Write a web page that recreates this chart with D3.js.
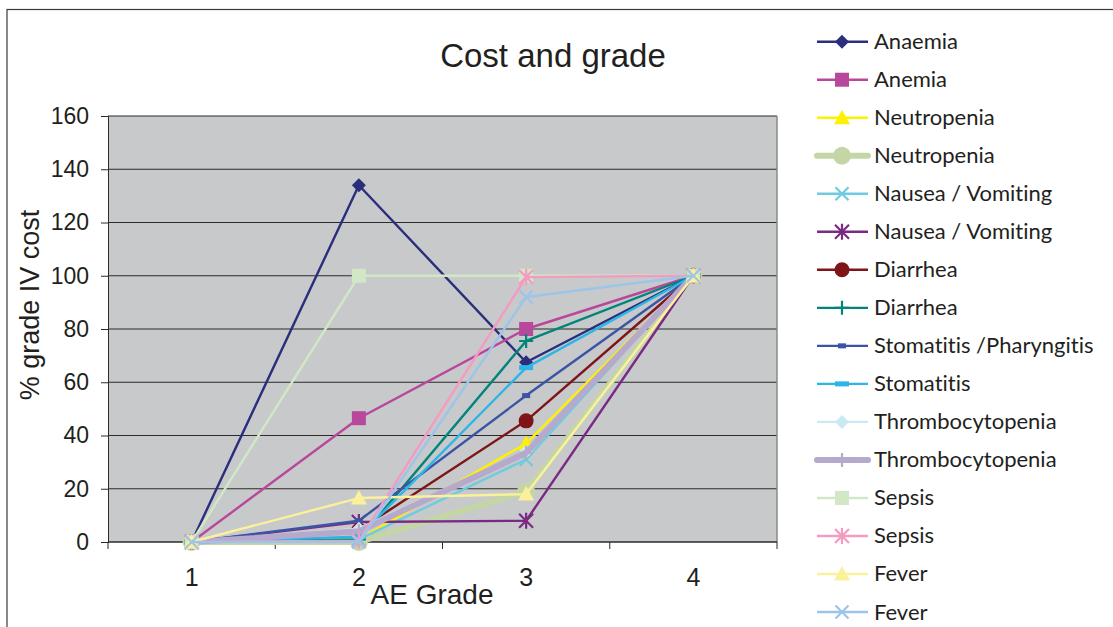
<!DOCTYPE html>
<html>
<head>
<meta charset="utf-8">
<script src="https://cdn.jsdelivr.net/npm/d3@7"></script>
<style>
  html, body { margin: 0; padding: 0; background: #fff; }
  svg { display: block; }
  .legend-label { font-variant-ligatures: none; font-feature-settings: "liga" 0; }
</style>
</head>
<body>
<svg id="chart" width="1113" height="627"></svg>
<script>
// AE grade categories and y-axis ticks
const grades = ["1", "2", "3", "4"];
const yTicks = [0, 20, 40, 60, 80, 100, 120, 140, 160];

// Series names (legend order)
const seriesNames = [
  "Anaemia", "Anemia", "Neutropenia", "Neutropenia",
  "Nausea / Vomiting", "Nausea / Vomiting", "Diarrhea", "Diarrhea",
  "Stomatitis /Pharyngitis", "Stomatitis", "Thrombocytopenia", "Thrombocytopenia",
  "Sepsis", "Sepsis", "Fever", "Fever"
];

// % of grade IV cost per AE grade
const anaemia       = [0, 134, 67.5, 100];
const anemia        = [0, 46.5, 80, 100];
const neutropeniaA  = [0, 1, 37, 100];
const neutropeniaB  = [0, 0, 19, 100];
const nauseaA       = [0, 1, 31, 100];
const nauseaB       = [0, 7.5, 8, 100];
const diarrheaA     = [0, 4.5, 45.5, 100];
const diarrheaB     = [0, 1, 75.5, 100];
const stomPharyng   = [0, 8, 55, 100];
const stomatitis    = [0, 2, 65.5, 100];
const thrombA       = [0, 5, 34, 100];
const thrombB       = [0, 4, 33.5, 100];
const sepsisA       = [0, 100, 100, 100];
const sepsisB       = [0, 0.5, 99.5, 100];
const feverA        = [0, 16.5, 18, 100];
const feverB        = [0, 0, 92, 100];

const seriesValues = [
  anaemia, anemia, neutropeniaA, neutropeniaB, nauseaA, nauseaB,
  diarrheaA, diarrheaB, stomPharyng, stomatitis, thrombA, thrombB,
  sepsisA, sepsisB, feverA, feverB
];

// Visual style per series
const styles = [
  { color: "#2a2e7c", width: 2.4, marker: "diamond", size: 14 },
  { color: "#b8489c", width: 2.4, marker: "square", size: 14 },
  { color: "#fff200", width: 2.4, marker: "triangle", size: 16 },
  { color: "#c5d6a6", width: 6, marker: "circle", size: 18 },
  { color: "#6fcbe0", width: 2.4, marker: "x", size: 13 },
  { color: "#7a2a84", width: 2.4, marker: "star", size: 14 },
  { color: "#7e1518", width: 2.4, marker: "circle", size: 15 },
  { color: "#00847c", width: 2.4, marker: "plus", size: 14 },
  { color: "#3b55a4", width: 2.4, marker: "dash", size: 8 },
  { color: "#2cb6e8", width: 2.4, marker: "dash", size: 14 },
  { color: "#cbe9f2", width: 2.4, marker: "diamond", size: 14 },
  { color: "#b6a9cc", width: 6, marker: "plus", size: 14 },
  { color: "#d2e7c6", width: 2.4, marker: "square", size: 14 },
  { color: "#f49bc2", width: 2.4, marker: "star", size: 14 },
  { color: "#faf19c", width: 2.4, marker: "triangle", size: 16 },
  { color: "#9dc4e9", width: 2.4, marker: "x", size: 13 }
];

const svg = d3.select("#chart");
const textColor = "#231f20";

// Outer chart frame (runs past the right and bottom edges)
svg.append("rect")
  .attr("x", 7).attr("y", 9.5)
  .attr("width", 1200).attr("height", 700)
  .attr("fill", "none").attr("stroke", "#3a3a3a").attr("stroke-width", 1.2);

const plot = { left: 108, right: 777, top: 116, bottom: 542 };

const x = d3.scaleBand().domain(grades).range([plot.left, plot.right]).padding(0);
const y = d3.scaleLinear().domain([0, 160]).range([plot.bottom, plot.top]);
const cx = g => x(g) + x.bandwidth() / 2;

// Plot background
svg.append("rect")
  .attr("x", plot.left).attr("y", plot.top)
  .attr("width", plot.right - plot.left).attr("height", plot.bottom - plot.top)
  .attr("fill", "#c8c9ca");

// Horizontal gridlines
svg.append("g").selectAll("line").data(yTicks.filter(t => t > 0)).join("line")
  .attr("x1", plot.left).attr("x2", plot.right)
  .attr("y1", d => y(d)).attr("y2", d => y(d))
  .attr("stroke", "#2b2b2b").attr("stroke-width", 1);

// Right edge of plot area
svg.append("line")
  .attr("x1", plot.right).attr("x2", plot.right)
  .attr("y1", plot.top).attr("y2", plot.bottom)
  .attr("stroke", "#8a8a8a").attr("stroke-width", 1.5);

// Y axis
const yAxis = d3.axisLeft(y).tickValues(yTicks).tickSize(7).tickPadding(12);
const gy = svg.append("g").attr("transform", `translate(${plot.left},0)`).call(yAxis);
gy.select(".domain").attr("stroke", "#2b2b2b");
gy.selectAll(".tick line").attr("stroke", "#2b2b2b");
gy.selectAll(".tick text")
  .attr("font-family", "Liberation Sans, Arial, sans-serif")
  .attr("font-size", 23).attr("fill", textColor);

// X axis: ticks at category boundaries, labels at centers
const gx = svg.append("g");
gx.append("line")
  .attr("x1", plot.left).attr("x2", plot.right)
  .attr("y1", plot.bottom).attr("y2", plot.bottom)
  .attr("stroke", "#2b2b2b").attr("stroke-width", 1.5);
const boundaries = grades.map(g => x(g)).concat([x(grades[grades.length - 1]) + x.bandwidth()]);
gx.selectAll("line.tick").data(boundaries).join("line")
  .attr("class", "tick")
  .attr("x1", d => d).attr("x2", d => d)
  .attr("y1", plot.bottom).attr("y2", plot.bottom + 7)
  .attr("stroke", "#2b2b2b");
gx.selectAll("text").data(grades).join("text")
  .attr("x", d => cx(d)).attr("y", 586)
  .attr("text-anchor", "middle")
  .attr("font-family", "Liberation Sans, Arial, sans-serif")
  .attr("font-size", 25).attr("fill", textColor)
  .text(d => d);

// Titles
svg.append("text")
  .attr("x", 553).attr("y", 67)
  .attr("text-anchor", "middle")
  .attr("font-family", "Liberation Sans, Arial, sans-serif")
  .attr("font-size", 33).attr("fill", textColor)
  .text("Cost and grade");

svg.append("text")
  .attr("x", 432).attr("y", 604)
  .attr("text-anchor", "middle")
  .attr("font-family", "Liberation Sans, Arial, sans-serif")
  .attr("font-size", 28).attr("fill", textColor)
  .text("AE Grade");

svg.append("text")
  .attr("transform", "translate(39,305) rotate(-90)")
  .attr("text-anchor", "middle")
  .attr("font-family", "Liberation Sans, Arial, sans-serif")
  .attr("font-size", 27).attr("fill", textColor)
  .text("% grade IV cost");

// Marker drawing
function drawMarker(sel, type, size, color) {
  const h = size / 2;
  if (type === "diamond") {
    sel.append("path").attr("d", `M0,${-h}L${h},0L0,${h}L${-h},0Z`).attr("fill", color);
  } else if (type === "square") {
    sel.append("rect").attr("x", -h).attr("y", -h).attr("width", size).attr("height", size).attr("fill", color);
  } else if (type === "triangle") {
    sel.append("path").attr("d", `M0,${-h}L${h},${h * 0.8}L${-h},${h * 0.8}Z`).attr("fill", color);
  } else if (type === "circle") {
    sel.append("circle").attr("r", h).attr("fill", color);
  } else if (type === "x") {
    sel.append("path").attr("d", `M${-h},${-h}L${h},${h}M${-h},${h}L${h},${-h}`)
      .attr("stroke", color).attr("stroke-width", 2.2).attr("fill", "none");
  } else if (type === "star") {
    sel.append("path").attr("d", `M${-h},${-h}L${h},${h}M${-h},${h}L${h},${-h}M0,${-h * 1.15}L0,${h * 1.15}`)
      .attr("stroke", color).attr("stroke-width", 2.2).attr("fill", "none");
  } else if (type === "plus") {
    sel.append("path").attr("d", `M0,${-h}L0,${h}M${-h},0L${h},0`)
      .attr("stroke", color).attr("stroke-width", 2.2).attr("fill", "none");
  } else if (type === "dash") {
    sel.append("rect").attr("x", -h).attr("y", -2.5).attr("width", size).attr("height", 5).attr("fill", color);
  }
}

// Series lines and markers
const line = d3.line().x((d, i) => cx(grades[i])).y(d => y(d));
const series = seriesValues.map((vals, i) => ({ name: seriesNames[i], vals, style: styles[i] }));

const gSeries = svg.append("g");
series.forEach(s => {
  const g = gSeries.append("g");
  g.append("path")
    .attr("d", line(s.vals))
    .attr("fill", "none")
    .attr("stroke", s.style.color)
    .attr("stroke-width", s.style.width)
    .attr("stroke-linejoin", "round")
    .attr("stroke-linecap", "round");
  s.vals.forEach((v, i) => {
    const m = g.append("g").attr("transform", `translate(${cx(grades[i])},${y(v)})`);
    drawMarker(m, s.style.marker, s.style.size, s.style.color);
  });
});

// Legend
const legend = svg.append("g");
series.forEach((s, i) => {
  const ly = 41.7 + i * 38.02;
  const g = legend.append("g").attr("transform", `translate(0,${ly})`);
  g.append("line")
    .attr("x1", 817).attr("x2", 868)
    .attr("stroke", s.style.color)
    .attr("stroke-width", s.style.width)
    .attr("stroke-linecap", s.style.width > 3 ? "round" : "butt");
  const m = g.append("g").attr("transform", "translate(842,0)");
  drawMarker(m, s.style.marker, s.style.size, s.style.color);
  g.append("text")
    .attr("class", "legend-label")
    .attr("x", 874).attr("y", 7.5)
    .attr("font-family", "Lato, 'Open Sans', sans-serif")
    .attr("font-size", 22).attr("fill", textColor)
    .text(s.name);
});
</script>
</body>
</html>
